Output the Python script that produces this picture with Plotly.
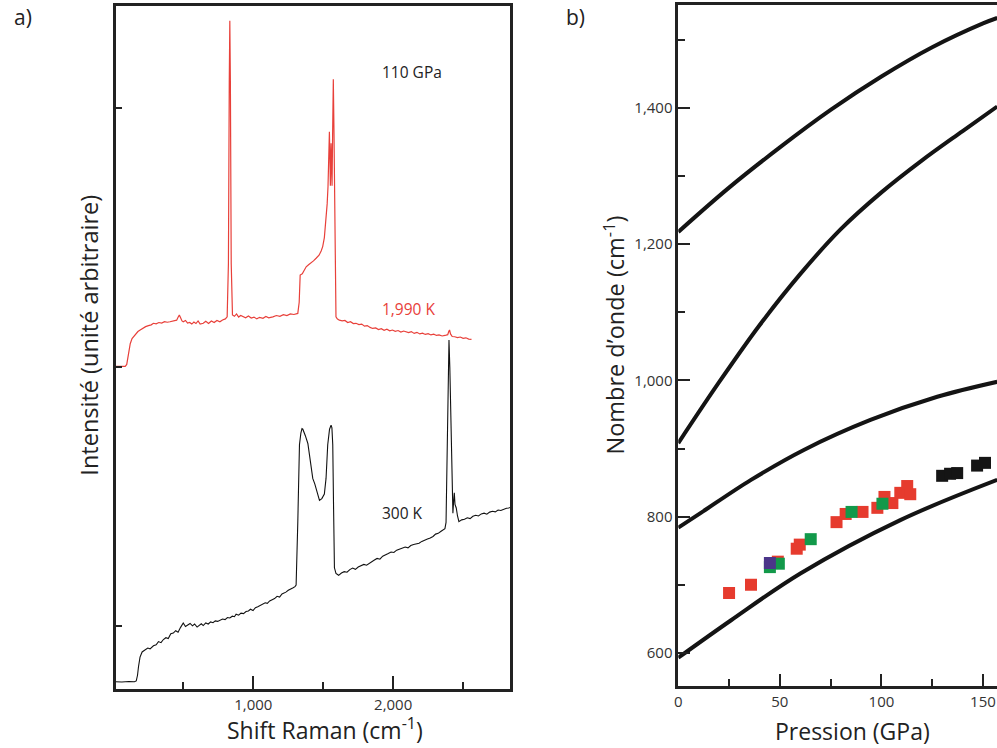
import plotly.graph_objects as go

# ---------------- Panel a) Raman spectra ----------------
# (Raman shift cm-1, intensity a.u.) for the 300 K spectrum
black_spectrum = [
    (15, -0.215), (60, -0.216), (110, -0.214), (150, -0.215), (163, -0.212), (172, -0.19), (179, -0.157),
    (190, -0.12), (205, -0.10), (226, -0.093), (245, -0.085), (262, -0.088), (286, -0.076), (305, -0.072),
    (322, -0.060), (340, -0.064), (357, -0.052), (375, -0.045), (392, -0.048), (410, -0.030), (428, -0.027),
    (445, -0.018), (462, -0.024), (480, -0.005), (499, 0.012), (515, -0.002), (532, 0.006), (548, 0.010),
    (565, 0.001), (580, 0.008), (598, -0.004), (612, 0.004), (628, 0.009), (642, 0.002), (660, 0.012),
    (678, 0.008), (695, 0.016), (712, 0.013), (728, 0.020), (745, 0.018), (761, 0.022), (780, 0.027),
    (798, 0.025), (815, 0.033), (832, 0.031), (850, 0.038), (865, 0.036), (877, 0.046), (895, 0.042),
    (912, 0.050), (930, 0.048), (948, 0.056), (965, 0.058), (980, 0.065), (998, 0.060), (1015, 0.071),
    (1032, 0.075), (1050, 0.080), (1068, 0.084), (1085, 0.090), (1100, 0.088), (1117, 0.097), (1135, 0.102),
    (1152, 0.106), (1170, 0.115), (1188, 0.112), (1205, 0.124), (1222, 0.128), (1233, 0.131), (1250, 0.138),
    (1268, 0.142), (1285, 0.148), (1298, 0.152), (1306, 0.158), (1318, 0.40), (1330, 0.70), (1340, 0.745),
    (1348, 0.762), (1354, 0.760), (1362, 0.745), (1372, 0.735), (1390, 0.705), (1408, 0.64), (1425, 0.57),
    (1440, 0.548), (1455, 0.52), (1473, 0.485), (1490, 0.492), (1508, 0.51), (1520, 0.57), (1532, 0.70),
    (1545, 0.760), (1556, 0.776), (1562, 0.765), (1568, 0.70), (1574, 0.45), (1580, 0.225), (1591, 0.203),
    (1610, 0.196), (1630, 0.205), (1650, 0.210), (1670, 0.208), (1690, 0.218), (1710, 0.224), (1730, 0.219),
    (1750, 0.228), (1770, 0.232), (1790, 0.238), (1810, 0.235), (1829, 0.243), (1848, 0.250), (1866, 0.255),
    (1885, 0.261), (1905, 0.258), (1925, 0.270), (1945, 0.274), (1965, 0.280), (1985, 0.286), (2005, 0.284),
    (2025, 0.293), (2046, 0.297), (2066, 0.301), (2086, 0.305), (2106, 0.302), (2126, 0.311), (2146, 0.315),
    (2166, 0.318), (2185, 0.320), (2205, 0.327), (2225, 0.330), (2245, 0.336), (2265, 0.340), (2285, 0.346),
    (2303, 0.355), (2322, 0.358), (2340, 0.365), (2358, 0.370), (2370, 0.376), (2378, 0.40), (2385, 0.60),
    (2392, 0.95), (2399, 1.104), (2405, 1.00), (2412, 0.80), (2418, 0.615), (2427, 0.436), (2432, 0.48),
    (2437, 0.515), (2442, 0.47), (2451, 0.456), (2460, 0.425), (2470, 0.403), (2490, 0.410), (2510, 0.412),
    (2530, 0.418), (2550, 0.415), (2570, 0.424), (2590, 0.428), (2610, 0.425), (2630, 0.433), (2650, 0.436),
    (2670, 0.432), (2690, 0.440), (2710, 0.443), (2730, 0.441), (2750, 0.448), (2770, 0.446), (2790, 0.452),
    (2810, 0.455), (2826, 0.456), (2835, 0.458),
]

# (Raman shift cm-1, intensity a.u.) for the 1,990 K spectrum
red_spectrum = [
    (15, 1.003), (40, 1.004), (60, 1.002), (84, 1.003), (95, 1.01), (108, 1.054), (120, 1.09), (133, 1.11),
    (143, 1.117), (160, 1.13), (175, 1.137), (191, 1.143), (210, 1.150), (230, 1.156), (250, 1.16), (270, 1.163),
    (286, 1.169), (305, 1.167), (325, 1.172), (345, 1.170), (365, 1.175), (385, 1.173), (404, 1.175), (425, 1.178),
    (440, 1.180), (452, 1.181), (462, 1.192), (471, 1.201), (480, 1.19), (490, 1.178), (499, 1.175), (515, 1.18),
    (530, 1.170), (545, 1.172), (560, 1.166), (575, 1.174), (590, 1.168), (605, 1.178), (620, 1.166), (642, 1.169),
    (660, 1.177), (680, 1.168), (700, 1.178), (720, 1.172), (740, 1.180), (761, 1.175), (780, 1.182), (800, 1.186),
    (813, 1.194), (822, 1.4), (828, 2.1), (832, 2.337), (836, 2.1), (842, 1.4), (851, 1.201), (865, 1.196),
    (880, 1.205), (895, 1.193), (910, 1.199), (927, 1.194), (945, 1.190), (965, 1.197), (985, 1.189), (1005, 1.193),
    (1025, 1.186), (1045, 1.192), (1069, 1.188), (1090, 1.195), (1110, 1.190), (1140, 1.194), (1165, 1.199),
    (1190, 1.196), (1215, 1.202), (1240, 1.199), (1265, 1.205), (1290, 1.203), (1318, 1.207), (1328, 1.25),
    (1335, 1.355), (1350, 1.36), (1365, 1.372), (1378, 1.387), (1395, 1.395), (1410, 1.40), (1430, 1.41),
    (1449, 1.42), (1470, 1.432), (1485, 1.448), (1496, 1.465), (1508, 1.50), (1520, 1.568), (1528, 1.63),
    (1534, 1.696), (1540, 1.80), (1544, 1.908), (1548, 1.80), (1551, 1.70), (1556, 1.864), (1560, 1.75),
    (1563, 1.70), (1567, 1.90), (1572, 2.111), (1577, 1.90), (1582, 1.645), (1586, 1.40), (1591, 1.194),
    (1600, 1.186), (1615, 1.181), (1635, 1.178), (1655, 1.180), (1675, 1.172), (1695, 1.175), (1715, 1.168),
    (1734, 1.169), (1755, 1.164), (1775, 1.166), (1795, 1.158), (1815, 1.160), (1835, 1.153), (1853, 1.149),
    (1875, 1.151), (1895, 1.145), (1915, 1.148), (1935, 1.142), (1955, 1.146), (1975, 1.140), (1995, 1.143),
    (2015, 1.138), (2035, 1.141), (2055, 1.135), (2075, 1.139), (2090, 1.136), (2110, 1.133), (2130, 1.137),
    (2150, 1.130), (2170, 1.134), (2190, 1.128), (2210, 1.131), (2230, 1.126), (2250, 1.129), (2270, 1.124),
    (2290, 1.127), (2310, 1.122), (2328, 1.124), (2350, 1.12), (2370, 1.122), (2390, 1.125), (2398, 1.138),
    (2403, 1.143), (2410, 1.128), (2422, 1.118), (2440, 1.117), (2460, 1.114), (2480, 1.116), (2500, 1.111),
    (2520, 1.113), (2540, 1.108), (2560, 1.107),
]

# ---------------- Panel b) wavenumber vs pressure ----------------
curve1_p = [0, 25, 50, 75, 100, 125, 150, 157]
curve1_v = [1218, 1283, 1342, 1397, 1446, 1489, 1524, 1532]
curve2_p = [0, 20, 40, 60, 80, 100, 120, 140, 157]
curve2_v = [908, 997, 1081, 1156, 1222, 1276, 1323, 1366, 1402]
curve3_p = [0, 11.3, 35.8, 61.8, 94.6, 127.5, 157]
curve3_v = [784, 806, 854, 898, 942, 976, 998]
curve4_p = [0, 26, 60.3, 109.3, 157]
curve4_v = [593, 648, 717, 795, 854]

red_p = [25.0, 35.8, 49.0, 58.3, 59.8, 77.9, 82.4, 90.7, 98.0, 101.5, 105.4, 109.3, 112.7, 114.2]
red_v = [688, 700, 734, 753, 759, 792, 804, 807, 813, 829, 820, 835, 845, 833]
green_p = [45.1, 49.5, 65.2, 85.3, 100.5]
green_v = [726, 731, 767, 807, 819]
purple_p = [45.1]
purple_v = [732]
black_p = [129.9, 133.8, 137.3, 147.1, 151.0]
black_v = [860, 863, 864, 875, 879]

RED = "#e8403a"
AX = "#222222"
TICKFONT = dict(family="Open Sans", size=15, color="#333333")
W, H = 997, 748

fig = go.Figure()

fig.add_trace(go.Scatter(x=[p[0] for p in red_spectrum], y=[p[1] for p in red_spectrum],
                         mode="lines", line=dict(color=RED, width=1.2), xaxis="x", yaxis="y"))
fig.add_trace(go.Scatter(x=[p[0] for p in black_spectrum], y=[p[1] for p in black_spectrum],
                         mode="lines", line=dict(color="#111111", width=1.1), xaxis="x", yaxis="y"))

for px_, pv_ in [(curve1_p, curve1_v), (curve2_p, curve2_v), (curve3_p, curve3_v), (curve4_p, curve4_v)]:
    fig.add_trace(go.Scatter(x=px_, y=pv_, mode="lines", line=dict(color="#141414", width=4, shape="spline"),
                             xaxis="x2", yaxis="y2"))

for xs, ys, col in [(red_p, red_v, "#e63b2e"), (green_p, green_v, "#12994a"),
                    (purple_p, purple_v, "#4b3589"), (black_p, black_v, "#151515")]:
    fig.add_trace(go.Scatter(x=xs, y=ys, mode="markers",
                             marker=dict(symbol="square", size=12, color=col, line=dict(width=0)),
                             xaxis="x2", yaxis="y2"))

axis_common = dict(showline=True, linecolor=AX, linewidth=2.5, showgrid=False, zeroline=False,
                   ticks="inside", tickcolor=AX, tickwidth=2, tickfont=TICKFONT)

fig.update_layout(
    width=W, height=H,
    margin=dict(l=0, r=0, t=0, b=0),
    paper_bgcolor="white", plot_bgcolor="white",
    showlegend=False,
    xaxis=dict(domain=[112 / W, 508 / W], range=[15, 2835], anchor="y", mirror=True,
               tick0=0, dtick=1000, ticklen=13, tickformat=",d",
               minor=dict(dtick=500, ticks="inside", ticklen=7, tickwidth=2, tickcolor=AX), **axis_common),
    yaxis=dict(domain=[1 - 689 / H, 1 - 6 / H], range=[-0.243, 2.394], anchor="x", mirror=True,
               tickvals=[0, 1, 2], ticklen=7, showticklabels=False, **axis_common),
    xaxis2=dict(domain=[677 / W, 1.0], range=[0, 156.9], anchor="y2", mirror=True,
                tick0=0, dtick=50, ticklen=12,
                minor=dict(dtick=25, ticks="inside", ticklen=7, tickwidth=2, tickcolor=AX), **axis_common),
    yaxis2=dict(domain=[1 - 686 / H, 1 - 5 / H], range=[551.5, 1551], anchor="x2",
                tick0=0, dtick=200, ticklen=12, tickformat=",d",
                minor=dict(dtick=100, ticks="inside", ticklen=7, tickwidth=2, tickcolor=AX), **axis_common),
)

def ann(text, x, y, size, color="#222222", angle=0, xanchor="center"):
    fig.add_annotation(text=text, x=x / W, y=1 - y / H, xref="paper", yref="paper", showarrow=False,
                       font=dict(family="Open Sans", size=size, color=color), textangle=angle,
                       xanchor=xanchor, yanchor="middle")

ann("a)", 19, 17, 21)
ann("b)", 574, 17, 21)
ann("110 GPa", 378, 72, 15.5, xanchor="left")
ann("1,990 K", 378, 309, 15.5, color=RED, xanchor="left")
ann("300 K", 378, 513, 15.5, xanchor="left")
ann("Shift Raman (cm<sup>-1</sup>)", 322, 729, 23)
ann("Pression (GPa)", 852, 731, 23)
ann("Intensité (unité arbitraire)", 85, 335, 23.5, angle=-90)
ann("Nombre d’onde (cm<sup>-1</sup>)", 612, 335, 23.5, angle=-90)

fig.write_html("out.html")
